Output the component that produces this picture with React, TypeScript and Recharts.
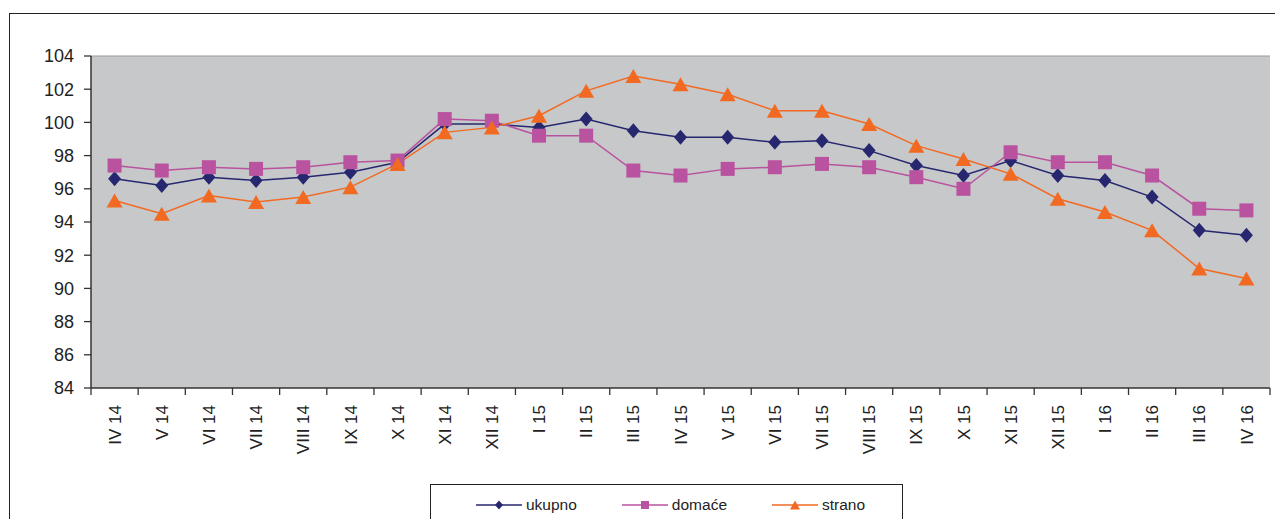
import { LineChart, Line, XAxis, YAxis, CartesianGrid, Legend, ReferenceLine } from 'recharts';

const months = [
  'IV 14', 'V 14', 'VI 14', 'VII 14', 'VIII 14', 'IX 14', 'X 14', 'XI 14', 'XII 14',
  'I 15', 'II 15', 'III 15', 'IV 15', 'V 15', 'VI 15', 'VII 15', 'VIII 15', 'IX 15',
  'X 15', 'XI 15', 'XII 15', 'I 16', 'II 16', 'III 16', 'IV 16',
];
const ukupno = [
  96.6, 96.2, 96.7, 96.5, 96.7, 97.0, 97.6, 99.9, 99.9, 99.7, 100.2, 99.5, 99.1,
  99.1, 98.8, 98.9, 98.3, 97.4, 96.8, 97.7, 96.8, 96.5, 95.5, 93.5, 93.2,
];
const domace = [
  97.4, 97.1, 97.3, 97.2, 97.3, 97.6, 97.7, 100.2, 100.1, 99.2, 99.2, 97.1, 96.8,
  97.2, 97.3, 97.5, 97.3, 96.7, 96.0, 98.2, 97.6, 97.6, 96.8, 94.8, 94.7,
];
const strano = [
  95.3, 94.5, 95.6, 95.2, 95.5, 96.1, 97.5, 99.4, 99.7, 100.4, 101.9, 102.8, 102.3,
  101.7, 100.7, 100.7, 99.9, 98.6, 97.8, 96.9, 95.4, 94.6, 93.5, 91.2, 90.6,
];
const yTicks = [84, 86, 88, 90, 92, 94, 96, 98, 100, 102, 104];

const C_UK = '#27276f';
const C_DO = '#b9529f';
const C_ST = '#f26a22';
const FONT = 'Arial, "Liberation Sans", sans-serif';

const data = months.map((m, i) => ({ month: m, ukupno: ukupno[i], domace: domace[i], strano: strano[i] }));

const diamond = (cx: number, cy: number, r = 6.5, h = 7.5) =>
  `${cx},${cy - h} ${cx + r},${cy} ${cx},${cy + h} ${cx - r},${cy}`;
const triangle = (cx: number, cy: number, w = 8, h = 7) =>
  `${cx},${cy - h} ${cx + w},${cy + h} ${cx - w},${cy + h}`;

const DiamondDot = (p: any) =>
  p.cx == null ? null : <polygon key={p.index} points={diamond(p.cx, p.cy)} fill={C_UK} />;
const SquareDot = (p: any) =>
  p.cx == null ? null : <rect key={p.index} x={p.cx - 7} y={p.cy - 7} width={14} height={14} fill={C_DO} />;
const TriangleDot = (p: any) =>
  p.cx == null ? null : <polygon key={p.index} points={triangle(p.cx, p.cy)} fill={C_ST} />;

const MonthTick = (p: any) => {
  const { x, y, payload, width, visibleTicksCount, index } = p;
  const half = width / visibleTicksCount / 2;
  return (
    <g>
      <line x1={x - half} x2={x - half} y1={y} y2={y + 7} stroke="#333" strokeWidth={1.3} />
      {index === visibleTicksCount - 1 && (
        <line x1={x + half} x2={x + half} y1={y} y2={y + 7} stroke="#333" strokeWidth={1.3} />
      )}
      <text
        transform={`translate(${x},${y + 17}) rotate(-90)`}
        textAnchor="end"
        dy="0.36em"
        fontSize={17}
        fontFamily={FONT}
        fill="#222"
      >
        {payload.value}
      </text>
    </g>
  );
};

const legendItems = [
  { name: 'ukupno', color: C_UK, kind: 'diamond' },
  { name: 'domaće', color: C_DO, kind: 'square' },
  { name: 'strano', color: C_ST, kind: 'triangle' },
];

const LegendBox = () => (
  <div
    style={{
      boxSizing: 'border-box',
      width: 473,
      height: 41,
      border: '1.5px solid #222',
      background: '#fff',
      display: 'flex',
      alignItems: 'center',
      paddingLeft: 45,
      fontFamily: FONT,
      fontSize: 15.5,
      color: '#222',
    }}
  >
    {legendItems.map((it) => (
      <div key={it.name} style={{ display: 'flex', alignItems: 'center', marginRight: 45 }}>
        <svg width={46} height={12} style={{ marginRight: 4 }}>
          <line x1={0} x2={46} y1={6} y2={6} stroke={it.color} strokeWidth={1.5} />
          {it.kind === 'diamond' && <polygon points={diamond(23, 6, 4, 4.5)} fill={it.color} />}
          {it.kind === 'square' && <rect x={19} y={2} width={8} height={8} fill={it.color} />}
          {it.kind === 'triangle' && <polygon points={triangle(23, 6, 5, 4.5)} fill={it.color} />}
        </svg>
        <span>{it.name}</span>
      </div>
    ))}
  </div>
);

export default function App() {
  return (
    <div style={{ position: 'relative', width: 1275, height: 527, marginBottom: -16, overflow: 'hidden' }}>
      <div
        style={{
          position: 'absolute',
          left: 1,
          top: 5,
          width: 1400,
          height: 700,
          border: '1.5px solid #222',
          boxSizing: 'border-box',
        }}
      />
      <LineChart
        width={1275}
        height={519}
        data={data}
        margin={{ top: 48, right: 13, bottom: 18, left: 0 }}
        style={{ position: 'absolute', left: 0, top: 0 }}
      >
        <CartesianGrid horizontal={false} vertical={false} fill="#c7c8ca" />
        <ReferenceLine y={104} stroke="#9a9a9a" strokeWidth={1.2} />
        <XAxis
          dataKey="month"
          scale="band"
          interval={0}
          height={80}
          tickSize={0}
          tickMargin={0}
          tickLine={false}
          axisLine={{ stroke: '#333', strokeWidth: 1.5 }}
          tick={<MonthTick />}
        />
        <YAxis
          domain={[84, 104]}
          ticks={yTicks}
          width={83}
          interval={0}
          tickSize={7}
          tickMargin={10}
          axisLine={{ stroke: '#333', strokeWidth: 1.5 }}
          tickLine={{ stroke: '#333', strokeWidth: 1.3 }}
          tick={{ fontSize: 18, fontFamily: FONT, fill: '#222' }}
        />
        <YAxis
          yAxisId="right"
          orientation="right"
          domain={[84, 104]}
          width={0}
          tick={false}
          tickLine={false}
          axisLine={{ stroke: '#9a9a9a', strokeWidth: 1.5 }}
        />
        <Legend
          verticalAlign="bottom"
          content={<LegendBox />}
          wrapperStyle={{ position: 'absolute', left: 422, top: 476, width: 473, height: 41 }}
        />
        <Line dataKey="ukupno" name="ukupno" stroke={C_UK} strokeWidth={1.5} dot={DiamondDot} isAnimationActive={false} />
        <Line dataKey="domace" name="domaće" stroke={C_DO} strokeWidth={1.5} dot={SquareDot} isAnimationActive={false} />
        <Line dataKey="strano" name="strano" stroke={C_ST} strokeWidth={1.5} dot={TriangleDot} isAnimationActive={false} />
      </LineChart>
    </div>
  );
}
